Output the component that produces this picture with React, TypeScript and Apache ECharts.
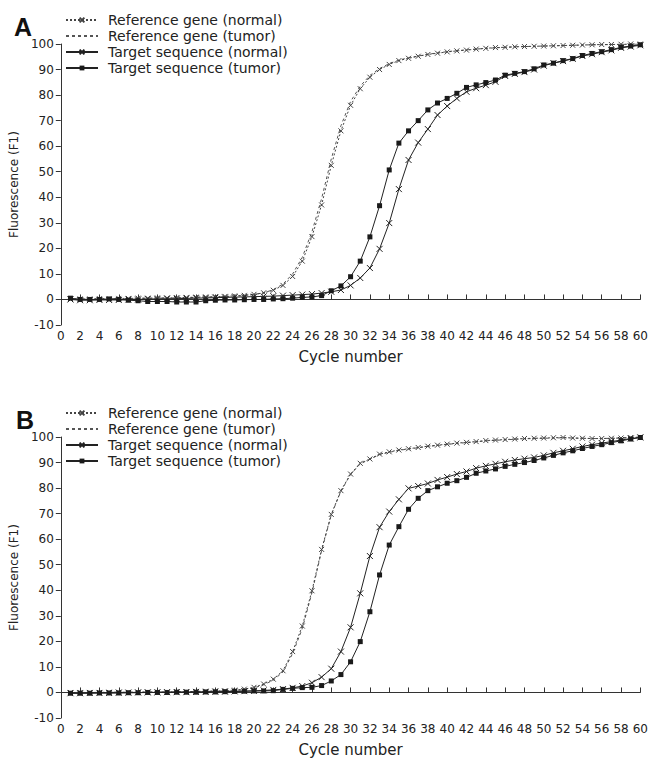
import React, { useEffect, useRef } from "react";
import * as echarts from "echarts";

const CYCLES = [1, 2, 3, 4, 5, 6, 7, 8, 9, 10, 11, 12, 13, 14, 15, 16, 17, 18, 19, 20, 21, 22, 23, 24, 25, 26, 27, 28, 29, 30, 31, 32, 33, 34, 35, 36, 37, 38, 39, 40, 41, 42, 43, 44, 45, 46, 47, 48, 49, 50, 51, 52, 53, 54, 55, 56, 57, 58, 59, 60];

const SERIES_NAMES = [
  "Reference gene (normal)",
  "Reference gene (tumor)",
  "Target sequence (normal)",
  "Target sequence (tumor)",
];

// Panel A
const A_REF_NORMAL = [0.3, 0.2, 0.2, 0.3, 0.3, 0.4, 0.4, 0.5, 0.5, 0.6, 0.6, 0.7, 0.8, 0.9, 1.0, 1.1, 1.2, 1.4, 1.6, 2.0, 2.6, 3.6, 5.5, 9, 15, 24.6, 37, 52.5, 66, 76, 82.5, 87, 90, 92, 93.5, 94.4, 95.2, 95.9, 96.4, 96.9, 97.3, 97.6, 98, 98.3, 98.6, 98.7, 98.9, 99, 99.1, 99.2, 99.3, 99.4, 99.5, 99.6, 99.7, 99.8, 99.8, 99.9, 100, 100];
const A_REF_TUMOR = [0.1, 0.1, 0.2, 0.2, 0.3, 0.3, 0.4, 0.4, 0.5, 0.5, 0.6, 0.6, 0.7, 0.8, 0.9, 1.0, 1.1, 1.3, 1.5, 1.9, 2.6, 3.8, 6, 10, 16.5, 26.5, 39.5, 55, 68, 77.5, 83.5, 87.7, 90.4, 92.3, 93.7, 94.6, 95.3, 96, 96.5, 97, 97.4, 97.7, 98, 98.3, 98.5, 98.7, 98.9, 99, 99.1, 99.2, 99.3, 99.4, 99.5, 99.6, 99.7, 99.7, 99.8, 99.9, 99.9, 100];
const A_TGT_NORMAL = [0, -0.3, -0.3, -0.2, -0.2, -0.2, 0, 0, 0.2, 0.2, 0.3, 0.3, 0.4, 0.5, 0.6, 0.7, 0.8, 0.9, 1, 1.1, 1.2, 1.3, 1.5, 1.7, 1.9, 2.1, 2.5, 3, 3.7, 5.5, 8.4, 12.3, 19.8, 29.9, 43.2, 54.6, 61.4, 66.7, 72.2, 75.7, 78.7, 81.3, 82.7, 83.9, 85.2, 87.5, 88.3, 89, 90, 91.5, 92.5, 93.3, 94.2, 95.3, 96, 96.8, 97.5, 98.5, 99, 99.5];
const A_TGT_TUMOR = [0.5, 0, 0, 0, 0.2, 0, -0.3, -0.5, -0.8, -0.8, -0.8, -1, -1, -1, -0.5, -0.3, -0.2, -0.2, -0.1, 0, 0, 0.2, 0.3, 0.5, 0.8, 1, 1.5, 3.4, 5.3, 8.9, 15, 24.5, 36.7, 50.7, 61.2, 66, 70, 74.2, 76.9, 78.7, 80.7, 83, 84, 84.9, 85.9, 87.8, 88.5, 89.2, 90.3, 91.8, 92.5, 93.5, 94.3, 95.5, 96.3, 97, 97.8, 98.7, 99.2, 99.7];

// Panel B
const B_REF_NORMAL = [0, 0, 0, 0, 0.1, 0.1, 0.1, 0.1, 0.2, 0.2, 0.2, 0.3, 0.3, 0.4, 0.5, 0.6, 0.7, 0.9, 1.3, 2, 3.3, 5.2, 8.5, 16, 26, 39.8, 56, 69.7, 79, 85.5, 89.7, 91.4, 93.3, 94.2, 94.9, 95.4, 95.9, 96.4, 96.8, 97.2, 97.6, 97.9, 98.2, 98.6, 98.8, 99, 99.2, 99.4, 99.5, 99.6, 99.7, 99.8, 99.6, 99.5, 99.4, 99.4, 99.5, 99.6, 99.8, 100];
const B_REF_TUMOR = [0, 0, 0, 0, 0, 0.1, 0.1, 0.1, 0.1, 0.2, 0.2, 0.2, 0.3, 0.3, 0.4, 0.5, 0.6, 0.8, 1.1, 1.8, 3, 4.8, 8, 15.2, 25, 39, 55.5, 69.5, 78.8, 85.3, 89.5, 91.3, 93.1, 94, 94.8, 95.3, 95.8, 96.3, 96.7, 97.1, 97.5, 97.8, 98.1, 98.5, 98.7, 98.9, 99.1, 99.3, 99.4, 99.5, 99.6, 99.7, 99.6, 99.5, 99.4, 99.4, 99.5, 99.6, 99.8, 100];
const B_TGT_NORMAL = [-0.3, -0.3, -0.2, -0.2, -0.2, -0.1, -0.1, 0, 0, 0, 0.1, 0.1, 0.1, 0.2, 0.2, 0.3, 0.3, 0.4, 0.5, 0.6, 0.8, 1, 1.3, 1.8, 2.5, 3.8, 6, 9.3, 16, 25.5, 38.8, 53.4, 64.7, 70.8, 75.6, 79.9, 80.8, 81.8, 83.2, 84.3, 85.5, 86.5, 87.8, 88.7, 89.5, 90.3, 91, 91.5, 92, 92.8, 93.8, 94.6, 95.4, 96.3, 97, 97.6, 98.2, 98.8, 99.4, 99.8];
const B_TGT_TUMOR = [-0.3, -0.3, -0.3, -0.2, -0.2, -0.2, -0.1, -0.1, 0, 0, 0, 0.1, 0.1, 0.1, 0.2, 0.2, 0.3, 0.4, 0.5, 0.6, 0.6, 0.7, 1.2, 1.6, 1.9, 2, 2.7, 4.5, 7, 12, 19.9, 31.6, 46, 57.7, 64.9, 71.7, 76, 79, 80.5, 81.9, 82.9, 84.2, 85.8, 86.7, 87.5, 88.5, 89.3, 90, 90.8, 91.8, 92.8, 93.8, 94.6, 95.5, 96.3, 97, 97.8, 98.5, 99.2, 99.8];

const X_TICKS = { min: 0, max: 60, interval: 2 };
const Y_TICKS = { min: -10, max: 100, interval: 10 };

const FONT = "DejaVu Sans, Verdana, sans-serif";
const X_SYMBOL = "path://M0,0L10,10M0,10L10,0";

function pairs(vals: number[]) {
  return CYCLES.map((c, i) => [c, vals[i]]);
}

function buildSeries(idx: number, arrays: number[][]) {
  const [refN, refT, tgtN, tgtT] = arrays;
  const base = { type: "line", xAxisIndex: idx, yAxisIndex: idx, smooth: false };
  return [
    {
      ...base,
      name: SERIES_NAMES[0],
      data: pairs(refN),
      symbol: X_SYMBOL,
      symbolSize: 5,
      lineStyle: { color: "#444", width: 1, type: [2, 2] },
      itemStyle: { color: "#444", borderColor: "#444", borderWidth: 1 },
      z: 3,
    },
    {
      ...base,
      name: SERIES_NAMES[1],
      data: pairs(refT),
      symbol: "circle",
      symbolSize: 0,
      showSymbol: false,
      lineStyle: { color: "#555", width: 1, type: [3, 3] },
      itemStyle: { color: "rgba(0,0,0,0)", borderWidth: 0 },
      z: 2,
    },
    {
      ...base,
      name: SERIES_NAMES[2],
      data: pairs(tgtN),
      symbol: X_SYMBOL,
      symbolSize: 6,
      lineStyle: { color: "#222", width: 1 },
      itemStyle: { color: "#222", borderColor: "#222", borderWidth: 1 },
      z: 4,
    },
    {
      ...base,
      name: SERIES_NAMES[3],
      data: pairs(tgtT),
      symbol: "rect",
      symbolSize: 5,
      lineStyle: { color: "#222", width: 1 },
      itemStyle: { color: "#1a1a1a", borderColor: "#1a1a1a", borderWidth: 0 },
      z: 5,
    },
  ];
}

function xAxisDef(idx: number) {
  return {
    type: "value",
    gridIndex: idx,
    ...X_TICKS,
    name: "Cycle number",
    nameLocation: "middle",
    nameGap: 24,
    nameTextStyle: { fontFamily: FONT, fontSize: 15, color: "#222" },
    axisLine: { show: true, lineStyle: { color: "#333", width: 1 } },
    axisTick: { show: true, inside: true, length: 5, lineStyle: { color: "#333" } },
    axisLabel: { fontFamily: FONT, fontSize: 12, color: "#222", margin: 5, showMinLabel: true, showMaxLabel: true },
    splitLine: { show: false },
  };
}

function yAxisDef(idx: number) {
  return {
    type: "value",
    gridIndex: idx,
    ...Y_TICKS,
    name: "Fluorescence (F1)",
    nameLocation: "middle",
    nameGap: 25,
    nameTextStyle: { fontFamily: FONT, fontSize: 12, color: "#222" },
    axisLine: { show: true, lineStyle: { color: "#333", width: 1 } },
    axisTick: { show: true, inside: false, length: 5, lineStyle: { color: "#333" } },
    axisLabel: { fontFamily: FONT, fontSize: 12, color: "#222", margin: 7 },
    splitLine: { show: false },
  };
}

function legendDef(top: number) {
  return {
    data: SERIES_NAMES,
    orient: "vertical",
    left: 65,
    top,
    itemWidth: 32,
    itemHeight: 6,
    itemGap: 2,
    padding: 0,
    selectedMode: false,
    textStyle: { fontFamily: FONT, fontSize: 14, color: "#222", lineHeight: 14, padding: [0, 0, 0, 5] },
  };
}

export default function App() {
  const ref = useRef<HTMLDivElement>(null);
  useEffect(() => {
    if (!ref.current) return;
    const chart = echarts.init(ref.current, null, { renderer: "svg" });
    const OFFSET = 393;
    chart.setOption({
      animation: false,
      backgroundColor: "#fff",
      grid: [
        { left: 50, top: 44, width: 597, height: 281 },
        { left: 50, top: 44 + OFFSET, width: 597, height: 281 },
      ],
      xAxis: [xAxisDef(0), xAxisDef(1)],
      yAxis: [yAxisDef(0), yAxisDef(1)],
      legend: [legendDef(13), legendDef(13 + OFFSET)],
      graphic: [
        { type: "text", left: 14, top: 14, style: { text: "A", fontFamily: "Liberation Sans, Arial, sans-serif", fontWeight: "bold", fontSize: 25, fill: "#111" } },
        { type: "text", left: 16, top: 14 + OFFSET, style: { text: "B", fontFamily: "Liberation Sans, Arial, sans-serif", fontWeight: "bold", fontSize: 25, fill: "#111" } },
      ],
      series: [
        ...buildSeries(0, [A_REF_NORMAL, A_REF_TUMOR, A_TGT_NORMAL, A_TGT_TUMOR]),
        ...buildSeries(1, [B_REF_NORMAL, B_REF_TUMOR, B_TGT_NORMAL, B_TGT_TUMOR]),
      ],
    });
    return () => chart.dispose();
  }, []);
  return <div ref={ref} style={{ position: "fixed", left: 0, top: 0, width: 651, height: 758, background: "#fff" }} />;
}
